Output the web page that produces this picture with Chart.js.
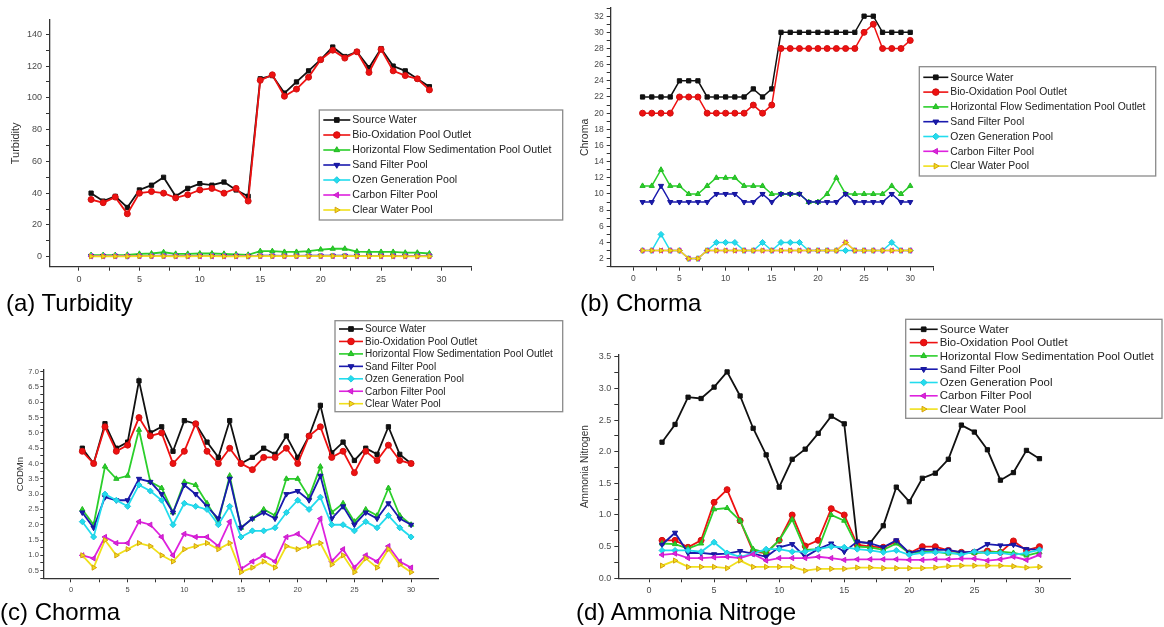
<!DOCTYPE html>
<html>
<head>
<meta charset="utf-8">
<script src="https://cdn.jsdelivr.net/npm/chart.js@4.4.0/dist/chart.umd.min.js"></script>
<style>
  body { margin: 0; background: #fff; width: 1164px; height: 627px; position: relative; overflow: hidden;
         font-family: Arial, "Liberation Sans", sans-serif; }
  canvas { position: absolute; }
  .cap { position: absolute; font-size: 24px; line-height: 24px; color: #000; white-space: nowrap; }
</style>
</head>
<body>
<canvas id="chartA" width="580" height="300" style="left:0;top:0"></canvas>
<canvas id="chartB" width="584" height="300" style="left:580px;top:0"></canvas>
<canvas id="chartC" width="580" height="300" style="left:0;top:313px"></canvas>
<canvas id="chartD" width="584" height="300" style="left:580px;top:313px"></canvas>
<div class="cap" style="left:6px;top:291px">(a) Turbidity</div>
<div class="cap" style="left:580px;top:291px">(b) Chorma</div>
<div class="cap" style="left:0;top:600px">(c) Chorma</div>
<div class="cap" style="left:576px;top:600px">(d) Ammonia Nitroge</div>

<script>
// ---- data ----
const seriesNames = ['Source Water', 'Bio-Oxidation Pool Outlet', 'Horizontal Flow Sedimentation Pool Outlet',
  'Sand Filter Pool', 'Ozen Generation Pool', 'Carbon Filter Pool', 'Clear Water Pool'];

const days29 = [1,2,3,4,5,6,7,8,9,10,11,12,13,14,15,16,17,18,19,20,21,22,23,24,25,26,27,28,29];
const days30 = [1,2,3,4,5,6,7,8,9,10,11,12,13,14,15,16,17,18,19,20,21,22,23,24,25,26,27,28,29,30];

// (a) turbidity
const turbSource = [40,35,38,31,42,45,50,38,43,46,45,47,42,38,112,114,103,110,117,124,132,126,129,119,131,120,117,112,107];
const turbBio    = [36,34,37.5,27,40,41,40,37,39,42,43,40,43,35,111,114.5,101,105.5,113,124,130,125,129,116,130.5,117,114,112,105];
const turbHoriz  = [1,1,1,1.2,1.8,2,2.8,1.8,1.8,2,2,1.8,1.5,1.2,3.5,3.5,3,3,3.5,4.5,5,5,3.2,3,3,3,2.5,2.5,2];
const turbSand   = [0.5,0.5,0.5,0.4,0.5,0.5,0.6,0.5,0.5,0.5,0.5,0.5,0.5,0.4,0.6,0.6,0.5,0.5,0.6,0.6,0.6,0.6,0.5,0.5,0.5,0.5,0.5,0.5,0.5];
const turbOzen   = [0.4,0.4,0.4,0.3,0.4,0.4,0.5,0.4,0.4,0.4,0.4,0.4,0.4,0.3,0.5,0.5,0.4,0.4,0.5,0.5,0.5,0.5,0.4,0.4,0.4,0.4,0.4,0.4,0.4];
const turbCarbon = [0.3,0.3,0.3,0.3,0.3,0.3,0.4,0.3,0.3,0.3,0.3,0.3,0.3,0.3,0.4,0.4,0.3,0.3,0.4,0.4,0.4,0.4,0.3,0.3,0.3,0.3,0.3,0.3,0.3];
const turbClear  = [0.2,0.2,0.2,0.2,0.3,0.3,0.3,0.2,0.2,0.3,0.3,0.2,0.2,0.2,0.3,0.3,0.3,0.3,0.3,0.3,0.4,0.3,0.3,0.3,0.3,0.3,0.2,0.2,0.2];

// (b) chroma
const chrSource = [22,22,22,22,24,24,24,22,22,22,22,22,23,22,23,30,30,30,30,30,30,30,30,30,32,32,30,30,30,30];
const chrBio    = [20,20,20,20,22,22,22,20,20,20,20,20,21,20,21,28,28,28,28,28,28,28,28,28,30,31,28,28,28,29];
const chrHoriz  = [11,11,13,11,11,10,10,11,12,12,12,11,11,11,10,10,10,10,9,9,10,12,10,10,10,10,10,11,10,11];
const chrSand   = [9,9,11,9,9,9,9,9,10,10,10,9,9,10,9,10,10,10,9,9,9,9,10,9,9,9,9,10,9,9];
const chrOzen   = [3,3,5,3,3,2,2,3,4,4,4,3,3,4,3,4,4,4,3,3,3,3,3,3,3,3,3,4,3,3];
const chrCarbon = [3,3,3,3,3,2,2,3,3,3,3,3,3,3,3,3,3,3,3,3,3,3,4,3,3,3,3,3,3,3];
const chrClear  = [3,3,3,3,3,2,2,3,3,3,3,3,3,3,3,3,3,3,3,3,3,3,4,3,3,3,3,3,3,3];

// (c) CODMn
const codSource = [4.5,4.0,5.3,4.5,4.7,6.7,5.0,5.2,4.4,5.4,5.3,4.7,4.2,5.4,4.0,4.2,4.5,4.3,4.9,4.2,4.9,5.9,4.35,4.7,4.1,4.5,4.3,5.2,4.3,4.0];
const codBio    = [4.4,4.0,5.2,4.4,4.6,5.5,4.9,5.0,4.0,4.4,5.3,4.4,4.0,4.5,4.0,3.8,4.2,4.2,4.5,4.0,4.9,5.2,4.2,4.4,3.7,4.4,4.1,4.6,4.1,4.0];
const codHoriz  = [2.5,2.0,3.9,3.5,3.6,5.1,3.4,3.2,2.4,3.4,3.3,2.7,2.1,3.6,1.9,2.2,2.5,2.3,3.5,3.5,2.9,3.9,2.4,2.7,2.1,2.5,2.3,3.2,2.3,2.0];
const codSand   = [2.4,1.9,2.9,2.8,2.8,3.5,3.4,3.0,2.4,3.3,3.0,2.6,2.2,3.5,1.9,2.2,2.4,2.2,3.0,3.1,2.8,3.6,2.2,2.6,2.0,2.4,2.2,2.7,2.2,2.0];
const codOzen   = [2.1,1.6,3.0,2.8,2.6,3.3,3.1,2.8,2.0,2.7,2.6,2.5,2.0,2.6,1.6,1.8,1.8,1.9,2.4,2.8,2.5,2.9,2.0,2.0,1.8,2.1,1.9,2.3,1.9,1.6];
const codCarbon = [1.0,0.9,1.6,1.4,1.4,2.1,2.0,1.6,1.0,1.7,1.6,1.6,1.3,2.1,0.55,0.8,1.0,0.8,1.6,1.7,1.4,2.2,0.8,1.2,0.6,1.0,0.8,1.3,0.8,0.6];
const codClear  = [1.0,0.6,1.5,1.0,1.2,1.4,1.3,1.0,0.8,1.2,1.3,1.4,1.2,1.4,0.45,0.6,0.8,0.6,1.3,1.2,1.3,1.4,0.7,1.0,0.45,0.9,0.6,1.2,0.7,0.45];

// (d) ammonia nitrogen
const amSource = [2.15,2.43,2.86,2.84,3.02,3.26,2.88,2.37,1.95,1.44,1.88,2.04,2.29,2.56,2.44,0.57,0.56,0.83,1.44,1.21,1.58,1.66,1.88,2.42,2.31,2.03,1.55,1.67,2.02,1.89];
const amBio    = [0.6,0.6,0.49,0.6,1.2,1.4,0.91,0.42,0.4,0.6,1.0,0.51,0.6,1.1,1.0,0.53,0.5,0.49,0.58,0.4,0.5,0.5,0.44,0.41,0.41,0.43,0.41,0.59,0.44,0.5];
const amHoriz  = [0.55,0.54,0.47,0.55,1.09,1.11,0.91,0.46,0.4,0.6,0.93,0.45,0.46,1.0,0.91,0.5,0.49,0.45,0.55,0.4,0.42,0.42,0.39,0.4,0.4,0.41,0.42,0.4,0.36,0.41];
const amSand   = [0.53,0.72,0.4,0.4,0.38,0.39,0.43,0.39,0.34,0.49,0.54,0.34,0.46,0.55,0.42,0.58,0.55,0.49,0.6,0.4,0.45,0.45,0.45,0.41,0.42,0.54,0.52,0.53,0.46,0.45];
const amOzen   = [0.44,0.44,0.44,0.42,0.57,0.4,0.34,0.39,0.46,0.46,0.42,0.42,0.46,0.5,0.49,0.46,0.44,0.41,0.44,0.37,0.4,0.41,0.41,0.37,0.42,0.4,0.4,0.37,0.4,0.45];
const amCarbon = [0.37,0.39,0.32,0.32,0.33,0.34,0.32,0.38,0.28,0.32,0.32,0.32,0.34,0.32,0.29,0.3,0.3,0.3,0.3,0.29,0.29,0.3,0.3,0.31,0.31,0.28,0.3,0.34,0.29,0.37];
const amClear  = [0.2,0.28,0.18,0.18,0.18,0.16,0.28,0.18,0.18,0.18,0.18,0.12,0.15,0.15,0.15,0.17,0.17,0.16,0.16,0.16,0.16,0.17,0.19,0.2,0.2,0.2,0.2,0.19,0.17,0.18];

// ---- styles ----
const lineColors  = ['#111111', '#ee1111', '#2bcf2b', '#1a1aae', '#22dcee', '#de22de', '#f0e01a'];
const edgeColors  = ['#111111', '#d01010', '#22b822', '#15159a', '#1fc8dc', '#c81cc8', '#d6a010'];
const markStyles  = ['rect', 'circle', 'triangle', 'triangle', 'rectRot', 'triangle', 'triangle'];
const markTurns   = [0, 0, 0, 180, 0, 270, 90];

Chart.defaults.font.family = 'Arial, "Liberation Sans", sans-serif';
Chart.defaults.color = '#4a4a4a';

function makeSets(xs, list, lw) {
  return list.map(function (vals, i) {
    return {
      label: seriesNames[i],
      data: vals.map(function (v, k) { return {x: xs[k], y: v}; }),
      borderColor: lineColors[i],
      backgroundColor: lineColors[i],
      pointBackgroundColor: lineColors[i],
      pointBorderColor: edgeColors[i],
      pointStyle: markStyles[i],
      pointRotation: markTurns[i],
      pointRadius: 3,
      pointBorderWidth: 1,
      borderWidth: lw,
      tension: 0,
      order: 6 - i
    };
  });
}

// in-plot legend box like the Origin one
const boxLegend = {
  id: 'boxLegend',
  afterDraw(chart, args, o) {
    const ctx = chart.ctx;
    ctx.save();
    ctx.fillStyle = '#fff';
    ctx.fillRect(o.x, o.y, o.w, o.h);
    ctx.strokeStyle = '#8a8a8a';
    ctx.lineWidth = 1.3;
    ctx.strokeRect(o.x, o.y, o.w, o.h);
    ctx.font = o.size + 'px Arial, "Liberation Sans", sans-serif';
    ctx.textBaseline = 'middle';
    ctx.textAlign = 'left';
    chart.data.datasets.forEach(function (ds, i) {
      const cy = o.y + o.first + i * o.rowH;
      const x0 = o.x + 4, x1 = x0 + o.lineLen;
      ctx.strokeStyle = ds.borderColor;
      ctx.lineWidth = 1.6;
      ctx.beginPath(); ctx.moveTo(x0, cy); ctx.lineTo(x1, cy); ctx.stroke();
      ctx.fillStyle = ds.pointBackgroundColor;
      ctx.strokeStyle = ds.pointBorderColor;
      ctx.lineWidth = 1;
      Chart.helpers.drawPoint(ctx, {pointStyle: ds.pointStyle, rotation: ds.pointRotation, radius: 3.3, borderWidth: 1}, (x0 + x1) / 2, cy);
      ctx.fillStyle = '#222';
      ctx.fillText(ds.label, x1 + 2, cy + 0.5);
    });
    ctx.restore();
  }
};

function isStep(v, s) { return Math.abs(v / s - Math.round(v / s)) < 1e-6; }

function drawPanel(id, p) {
  const ctx = document.getElementById(id).getContext('2d');
  const axisLine = {display: true, color: '#333', width: 1.3};
  const xGrid = {drawOnChartArea: false, drawTicks: true, tickLength: 4, color: '#333', lineWidth: 1};
  const yGrid = {drawOnChartArea: false, drawTicks: true, tickLength: p.yTickLen, color: '#333', lineWidth: 1};
  return new Chart(ctx, {
    type: 'line',
    data: {datasets: makeSets(p.xs, p.series, p.lw)},
    options: {
      responsive: false,
      animation: false,
      devicePixelRatio: 1,
      layout: {padding: {left: 0, top: p.padTop, right: p.padRight, bottom: 0}},
      plugins: {legend: {display: false}, tooltip: {enabled: false}, boxLegend: p.legend},
      scales: {
        x: {
          type: 'linear', position: 'bottom', min: p.xMin, max: p.xMax,
          border: axisLine, grid: xGrid,
          ticks: {stepSize: 2.5, autoSkip: false, includeBounds: false, maxRotation: 0, padding: 3,
                  font: {size: p.tickSize},
                  callback: function (v) { return isStep(v, 5) ? String(Math.round(v)) : ''; }},
          afterFit: function (s) { s.height = p.xHeight; }
        },
        y: {
          type: 'linear', position: 'left', min: p.yMin, max: p.yMax,
          border: axisLine, grid: yGrid,
          title: {display: true, text: p.yTitle, color: '#333', font: {size: p.titleSize, lineHeight: 1},
                  padding: {top: p.titlePad, bottom: 0}},
          ticks: {stepSize: p.yStep, autoSkip: false, includeBounds: false, padding: p.yTickPad,
                  font: {size: p.tickSize},
                  callback: function (v) { return isStep(v, p.yLabelStep) ? v.toFixed(p.yDigits) : ''; }},
          afterFit: function (s) { s.width = p.yWidth; }
        }
      }
    },
    plugins: [boxLegend]
  });
}

drawPanel('chartA', {
  xs: days29, series: [turbSource, turbBio, turbHoriz, turbSand, turbOzen, turbCarbon, turbClear], lw: 1.8,
  xMin: -2.4, xMax: 32.5, yMin: -6.3, yMax: 149, yStep: 10, yLabelStep: 20, yDigits: 0,
  yTitle: 'Turbidity', titleSize: 11, titlePad: 10.5, tickSize: 9, yTickLen: 4, yTickPad: 4,
  yWidth: 50, padTop: 20, padRight: 108.3, xHeight: 33.3,
  legend: {x: 319.3, y: 110, w: 243.4, h: 110, first: 10, rowH: 15, lineLen: 27, size: 10.6}
});

drawPanel('chartB', {
  xs: days30, series: [chrSource, chrBio, chrHoriz, chrSand, chrOzen, chrCarbon, chrClear], lw: 1.5,
  xMin: -2.45, xMax: 32.5, yMin: 1, yMax: 33, yStep: 1, yLabelStep: 2, yDigits: 0,
  yTitle: 'Chroma', titleSize: 10.5, titlePad: 0, tickSize: 8.5, yTickLen: 4, yTickPad: 3,
  yWidth: 30.7, padTop: 7.3, padRight: 230.7, xHeight: 33.3,
  legend: {x: 339.3, y: 66.7, w: 236.4, h: 109.3, first: 10.6, rowH: 14.8, lineLen: 25, size: 10.4}
});

drawPanel('chartC', {
  xs: days30, series: [codSource, codBio, codHoriz, codSand, codOzen, codCarbon, codClear], lw: 1.8,
  xMin: -2.44, xMax: 32.4, yMin: 0.25, yMax: 7.055, yStep: 0.25, yLabelStep: 0.5, yDigits: 1,
  yTitle: 'CODMn', titleSize: 9.5, titlePad: 15.5, tickSize: 7.5, yTickLen: 3, yTickPad: 1.5,
  yWidth: 43.3, padTop: 57, padRight: 141.7, xHeight: 34.7,
  legend: {x: 335, y: 7.7, w: 227.7, h: 91, first: 8.3, rowH: 12.45, lineLen: 24, size: 10}
});

drawPanel('chartD', {
  xs: days30, series: [amSource, amBio, amHoriz, amSand, amOzen, amCarbon, amClear], lw: 1.8,
  xMin: -2.36, xMax: 32.4, yMin: 0, yMax: 3.527, yStep: 0.25, yLabelStep: 0.5, yDigits: 1,
  yTitle: 'Ammonia Nitrogen', titleSize: 10, titlePad: 0, tickSize: 9, yTickLen: 4, yTickPad: 3,
  yWidth: 38.3, padTop: 42, padRight: 93.3, xHeight: 34.7,
  legend: {x: 325.7, y: 6.3, w: 256.3, h: 99, first: 10, rowH: 13.3, lineLen: 28, size: 11.4}
});
</script>
</body>
</html>
